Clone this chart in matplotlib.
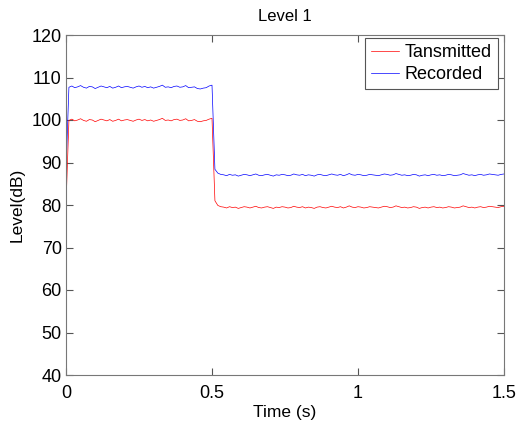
import numpy as np
import matplotlib
matplotlib.use('Agg')
import matplotlib.pyplot as plt

plt.rcParams['font.family'] = ['Liberation Sans', 'DejaVu Sans']

#------------------------------------------------------------
# data (0.01 s steps)
#------------------------------------------------------------
tx_before = [80.0, 99.9, 100.2, 99.8, 100.0, 100.3, 99.9, 99.7, 100.1, 100.0,
             99.6, 99.9, 100.2, 100.0, 99.8, 100.1, 99.7, 99.9, 100.2, 99.8,
             100.0, 100.1, 99.9, 99.7, 100.0, 100.2, 99.9, 100.1, 99.8, 100.0,
             99.7, 99.9, 100.1, 100.4, 99.9, 100.0, 99.8, 100.1, 100.2, 99.9,
             100.0, 100.3, 99.8, 99.9, 100.1, 99.7, 99.6, 99.8, 99.9, 100.2, 100.4]
tx_after = [81.0, 79.9, 79.6, 79.5, 79.3, 79.6, 79.4, 79.5, 79.2, 79.4,
            79.6, 79.5, 79.3, 79.5, 79.7, 79.4, 79.3, 79.5, 79.6, 79.4,
            79.2, 79.5, 79.4, 79.6, 79.5, 79.3, 79.4, 79.7, 79.5, 79.4,
            79.6, 79.3, 79.5, 79.4, 79.2, 79.5, 79.6, 79.4, 79.3, 79.5,
            79.7, 79.5, 79.4, 79.6, 79.3, 79.5, 79.8, 79.5, 79.4, 79.6,
            79.5, 79.3, 79.4, 79.6, 79.5, 79.4, 79.3, 79.5, 79.7, 79.6,
            79.4, 79.5, 79.8, 79.6, 79.4, 79.5, 79.3, 79.4, 79.6, 79.5,
            79.2, 79.4, 79.5, 79.3, 79.5, 79.6, 79.4, 79.5, 79.3, 79.4,
            79.6, 79.5, 79.3, 79.4, 79.5, 79.8, 79.6, 79.4, 79.5, 79.3,
            79.5, 79.6, 79.4, 79.5, 79.7, 79.6, 79.5, 79.4, 79.6, 79.7]

rec_before = [88.0, 107.7, 108.0, 107.6, 107.8, 108.1, 107.7, 107.5, 107.9, 107.8,
              107.4, 107.7, 108.0, 107.8, 107.6, 107.9, 107.5, 107.7, 108.0, 107.6,
              107.8, 107.9, 107.7, 107.5, 107.8, 108.0, 107.7, 107.9, 107.6, 107.8,
              107.5, 107.7, 107.9, 108.2, 107.7, 107.8, 107.6, 107.9, 108.0, 107.7,
              107.8, 108.1, 107.6, 107.7, 107.8, 107.4, 107.3, 107.5, 107.6, 108.0, 108.2]
rec_after = [88.4, 87.5, 87.2, 87.1, 86.9, 87.2, 87.0, 87.1, 86.8, 87.0,
             87.2, 87.1, 86.9, 87.1, 87.3, 87.0, 86.9, 87.1, 87.2, 87.0,
             86.8, 87.1, 87.0, 87.2, 87.1, 86.9, 87.0, 87.3, 87.1, 87.0,
             87.2, 86.9, 87.1, 87.0, 86.8, 87.1, 87.2, 87.0, 86.9, 87.1,
             87.3, 87.1, 87.0, 87.2, 86.9, 87.1, 87.4, 87.1, 87.0, 87.2,
             87.1, 86.9, 87.0, 87.2, 87.1, 87.0, 86.9, 87.1, 87.3, 87.2,
             87.0, 87.1, 87.4, 87.2, 87.0, 87.1, 86.9, 87.0, 87.2, 87.1,
             86.8, 87.0, 87.1, 86.9, 87.1, 87.2, 87.0, 87.1, 86.9, 87.0,
             87.2, 87.1, 86.9, 87.0, 87.1, 87.4, 87.2, 87.0, 87.1, 86.9,
             87.1, 87.2, 87.0, 87.1, 87.3, 87.2, 87.1, 87.0, 87.2, 87.3]

transmitted = np.array(tx_before + tx_after)
recorded = np.array(rec_before + rec_after)
t_tx = np.linspace(0, 1.5, len(transmitted))
t_rec = np.linspace(0, 1.5, len(recorded))

xticks = [0, 0.5, 1, 1.5]
xticklabels = ['0', '0.5', '1', '1.5']
yticks = [40, 50, 60, 70, 80, 90, 100, 110, 120]

#------------------------------------------------------------
# plotting
#------------------------------------------------------------
fig = plt.figure(figsize=(5.16, 4.3), dpi=100)
ax = fig.add_axes([66/516, 55/430, 438/516, 340/430])
ax.plot(t_tx, transmitted, color='red', lw=0.5, label='Tansmitted')
ax.plot(t_rec, recorded, color='blue', lw=0.5, label='Recorded')
ax.set_xlim(0, 1.5)
ax.set_ylim(40, 120)
ax.set_xticks(xticks)
ax.set_xticklabels(xticklabels)
ax.set_yticks(yticks)
ax.tick_params(direction='in', top=True, right=True, labelsize=13, length=5,
               color='#555555')
ax.tick_params(axis='x', pad=7.5)
ax.tick_params(axis='y', pad=3)
for s in ax.spines.values():
    s.set_color('#777777')
    s.set_linewidth(0.8)
ax.set_xlabel('Time (s)', fontsize=12.5, labelpad=2)
ax.set_ylabel('Level(dB)', fontsize=12.5, labelpad=5)
ax.set_title('Level 1', fontsize=12, pad=10)
leg = ax.legend(loc='upper right', bbox_to_anchor=(0.9863, 0.991), borderaxespad=0,
                fontsize=13, fancybox=False, framealpha=1,
                edgecolor='#555555', handlelength=1.55, handletextpad=0.3,
                borderpad=0.35, labelspacing=0.25)
leg.get_frame().set_linewidth(0.8)

plt.savefig('out.png', dpi=100)
